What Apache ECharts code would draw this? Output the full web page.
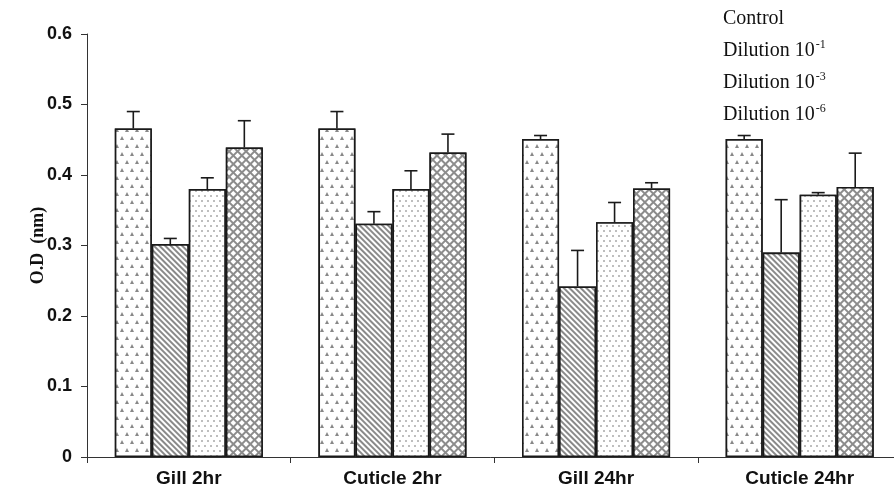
<!DOCTYPE html>
<html><head><meta charset="utf-8">
<script src="https://cdn.jsdelivr.net/npm/echarts@6/dist/echarts.min.js"></script>
<style>html,body{margin:0;padding:0;background:#fff}#c{width:894px;height:490px}</style>
</head><body><div id="c"></div>
<script>
var categories = ['Gill 2hr', 'Cuticle 2hr', 'Gill 24hr', 'Cuticle 24hr'];
var seriesNames = ['Control', 'Dilution 10^-1', 'Dilution 10^-3', 'Dilution 10^-6'];
var exponents = ['', '-1', '-3', '-6'];
var control = [0.466, 0.466, 0.451, 0.451];
var dil1 = [0.302, 0.331, 0.242, 0.290];
var dil3 = [0.380, 0.380, 0.333, 0.372];
var dil6 = [0.439, 0.432, 0.381, 0.383];
var controlErr = [0.024, 0.024, 0.005, 0.005];
var dil1Err = [0.008, 0.017, 0.051, 0.075];
var dil3Err = [0.016, 0.026, 0.028, 0.003];
var dil6Err = [0.038, 0.026, 0.008, 0.048];
var yTicks = [0, 0.1, 0.2, 0.3, 0.4, 0.5, 0.6];

var values = [control, dil1, dil3, dil6];
var errs = [controlErr, dil1Err, dil3Err, dil6Err];
var CAT_GAP = 0.273;

var decals = [
  { symbol: 'triangle', symbolSize: 1, color: '#888888', backgroundColor: '#fff',
    dashArrayX: [[3.6, 5.4], [0, 4.5, 3.6, 0.9]], dashArrayY: [3.4, 3.6], rotation: 0 },
  { symbol: 'rect', symbolSize: 1, color: '#8a8a8a', backgroundColor: '#fff',
    dashArrayX: [1, 0], dashArrayY: [1.2, 1.9], rotation: Math.PI / 4 },
  { symbol: 'circle', symbolSize: 1, color: '#a8a8a8', backgroundColor: '#fff',
    dashArrayX: [[1.6, 3.6], [0, 2.6, 1.6, 1]], dashArrayY: [1.6, 3], rotation: 0 },
  { symbol: 'rect', symbolSize: 1, color: '#ffffff', backgroundColor: '#8c8c8c',
    dashArrayX: [4, 1.3], dashArrayY: [4, 1.3], rotation: Math.PI / 4 }
];

var series = values.map(function (v, i) {
  return {
    name: seriesNames[i], type: 'bar', data: v,
    barGap: '0%', barCategoryGap: (CAT_GAP * 100) + '%',
    itemStyle: { color: '#fff', borderColor: '#1a1a1a', borderWidth: 1.6, decal: decals[i] },
    emphasis: { disabled: true },
    z: 2
  };
});

var errData = [];
for (var s = 0; s < 4; s++) for (var c = 0; c < 4; c++) errData.push([c, values[s][c], errs[s][c], s]);

series.push({
  type: 'custom', name: 'err', data: errData, z: 5, silent: true,
  renderItem: function (params, api) {
    var c = api.value(0), v = api.value(1), e = api.value(2), s = api.value(3);
    var band = api.size([1, 0])[0];
    var groupW = band * (1 - CAT_GAP);
    var barW = groupW / 4;
    var center = api.coord([c, v]);
    var x = center[0] - groupW / 2 + barW * (s + 0.5);
    var y0 = center[1];
    var y1 = api.coord([c, v + e])[1];
    var half = 6.5;
    var st = { stroke: '#1a1a1a', lineWidth: 1.6 };
    return { type: 'group', children: [
      { type: 'line', shape: { x1: x, y1: y0, x2: x, y2: y1 }, style: st },
      { type: 'line', shape: { x1: x - half, y1: y1, x2: x + half, y2: y1 }, style: st }
    ]};
  }
});

var chart = echarts.init(document.getElementById('c'), null, { renderer: 'canvas' });
chart.setOption({
  animation: false,
  backgroundColor: '#fff',
  grid: { left: 87, top: 34, bottom: 33, width: 814.5, outerBoundsMode: 'none', containLabel: false },
  legend: {
    data: seriesNames, orient: 'vertical', left: 713, top: 4, itemGap: 10,
    icon: 'none', itemWidth: 0, itemHeight: 10, selectedMode: false,
    formatter: function (name) {
      var i = seriesNames.indexOf(name);
      if (!exponents[i]) return '{n|' + name + '}';
      return '{n|Dilution 10}{s|' + exponents[i] + '}';
    },
    textStyle: {
      color: '#111', fontFamily: 'Liberation Serif',
      rich: {
        n: { fontSize: 20, fontFamily: 'Liberation Serif', color: '#111', lineHeight: 22, verticalAlign: 'bottom' },
        s: { fontSize: 12, fontFamily: 'Liberation Serif', color: '#111', lineHeight: 22, verticalAlign: 'top', padding: [0, 0, 0, 1] }
      }
    }
  },
  xAxis: {
    type: 'category', data: categories,
    axisLine: { lineStyle: { color: '#333', width: 1 } },
    axisTick: { show: true, alignWithLabel: false, length: 6, lineStyle: { color: '#333' } },
    axisLabel: { color: '#111', fontFamily: 'Liberation Sans', fontWeight: 'bold', fontSize: 19, margin: 12 }
  },
  yAxis: {
    type: 'value', min: 0, max: 0.6, interval: 0.1,
    name: 'O.D  (nm)', nameLocation: 'middle', nameGap: 40, nameRotate: 90, nameMoveOverlap: false,
    nameTextStyle: { fontFamily: 'Liberation Serif', fontWeight: 'bold', fontSize: 18, color: '#111' },
    splitLine: { show: false },
    axisLine: { show: true, lineStyle: { color: '#333', width: 1 } },
    axisTick: { show: true, length: 6, lineStyle: { color: '#333' } },
    axisLabel: {
      color: '#111', fontFamily: 'Liberation Sans', fontWeight: 'bold', fontSize: 18, margin: 15,
      formatter: function (v) { var t = yTicks.filter(function (k) { return Math.abs(k - v) < 1e-9; })[0]; return t === 0 ? '0' : String(t); }
    }
  },
  series: series
});
</script>
</body></html>
